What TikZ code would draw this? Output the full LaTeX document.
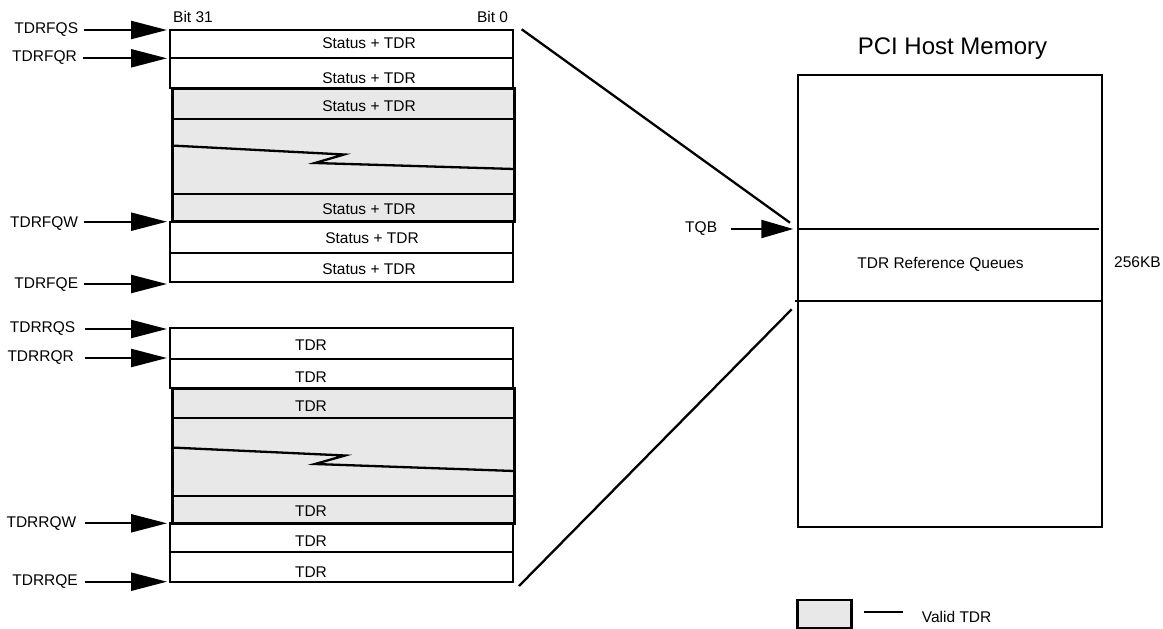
\documentclass[tikz,border=0pt]{standalone}
\usepackage{fontspec}
\setmainfont{Liberation Sans}
\usetikzlibrary{arrows.meta}
\definecolor{validgrey}{HTML}{E8E8E8}
\tikzset{
  lbl/.style={inner sep=0pt, font=\fontsize{15.5}{18}\selectfont},
  title/.style={inner sep=0pt, font=\fontsize{24}{28}\selectfont},
  cell/.style={draw=black, line width=2.3pt, fill=white},
  validbox/.style={draw=black, line width=3pt, fill=validgrey},
  sep/.style={draw=black, line width=2.3pt},
  ptr/.style={line width=2.3pt, -{Triangle[length=36pt,width=18pt]}},
  ptrs/.style={line width=2.3pt, -{Triangle[length=32pt,width=18pt]}},
  link/.style={line width=2.3pt},
}
\begin{document}
\begin{tikzpicture}[x=1pt,y=-1pt]
\useasboundingbox (0,0) rectangle (1163,629);

% ---------- Top block (free queue) ----------
\draw[cell] (170,30) rectangle (513.3,58.3);
\draw[cell] (170,58.3) rectangle (513.3,88.3);
\draw[validbox] (172,88.3) rectangle (514.7,221.7);
\draw[sep] (172,118.7) -- (514.7,118.7);
\draw[sep] (172,194.3) -- (514.7,194.3);
\draw[line width=2.3pt] (171,145.5) -- (344,154.5) -- (315,163) -- (514,169);
\draw[cell] (170,221.7) rectangle (513.3,253.3);
\draw[cell] (170,253.3) rectangle (513.3,282.3);
\draw[validbox, fill=none] (172,88.3) rectangle (514.7,221.7);

\node[lbl, anchor=west] (bit31) at (173,17) {Bit 31};
\node[lbl, anchor=east] (bit0) at (508.3,17) {Bit 0};

\node[lbl] (f1) at (369,43.5) {Status + TDR};
\node[lbl] (f2) at (369,78.5) {Status + TDR};
\node[lbl] (f3) at (369,106.5) {Status + TDR};
\node[lbl] (f4) at (369,209) {Status + TDR};
\node[lbl] (f5) at (372,238.5) {Status + TDR};
\node[lbl] (f6) at (369,269) {Status + TDR};

\node[lbl, anchor=east] (fqs) at (78.3,30) {TDRFQS};
\node[lbl, anchor=east] (fqr) at (77,58) {TDRFQR};
\node[lbl, anchor=east] (fqw) at (78.3,224) {TDRFQW};
\node[lbl, anchor=east] (fqe) at (78.3,285) {TDRFQE};
\coordinate (cfqs) at (167,30);
\coordinate (cfqr) at (167,58.3);
\coordinate (cfqw) at (167,221.7);
\coordinate (cfqe) at (167,284);
\draw[ptr, shorten <=6pt] (fqs.east) -- (cfqs);
\draw[ptr, shorten <=6pt] (fqr.east |- cfqr) -- (cfqr);
\draw[ptr, shorten <=6pt] (fqw.east |- cfqw) -- (cfqw);
\draw[ptr, shorten <=6pt] (fqe.east |- cfqe) -- (cfqe);

% ---------- Bottom block (reference queue) ----------
\draw[cell] (170,328.3) rectangle (513.3,359);
\draw[cell] (170,359) rectangle (513.3,388.3);
\draw[validbox] (172,388.3) rectangle (514.7,523.3);
\draw[sep] (172,417.7) -- (514.7,417.7);
\draw[sep] (172,495.7) -- (514.7,495.7);
\draw[line width=2.3pt] (171,447.5) -- (345,455.5) -- (315,464) -- (514,471);
\draw[cell] (170,523.3) rectangle (513.3,552.3);
\draw[cell] (170,552.3) rectangle (513.3,581.7);
\draw[validbox, fill=none] (172,388.3) rectangle (514.7,523.3);

\node[lbl] (r1) at (311,345) {TDR};
\node[lbl] (r2) at (311,377) {TDR};
\node[lbl] (r3) at (311,406.5) {TDR};
\node[lbl] (r4) at (311,511) {TDR};
\node[lbl] (r5) at (311,541) {TDR};
\node[lbl] (r6) at (311,572) {TDR};

\node[lbl, anchor=east] (rqs) at (75.5,328.5) {TDRRQS};
\node[lbl, anchor=east] (rqr) at (74,358) {TDRRQR};
\node[lbl, anchor=east] (rqw) at (76.5,524) {TDRRQW};
\node[lbl, anchor=east] (rqe) at (78,582) {TDRRQE};
\coordinate (crqs) at (167,329);
\coordinate (crqr) at (167,358);
\coordinate (crqw) at (167,523.3);
\coordinate (crqe) at (167,581.7);
\draw[ptr] (84.5,329) -- (crqs);
\draw[ptr] (84.5,358) -- (crqr);
\draw[ptr] (84.5,523.3) -- (crqw);
\draw[ptr] (84.5,581.7) -- (crqe);

% ---------- PCI host memory ----------
\node[title] (pci) at (952.5,49) {PCI Host Memory};
\draw[line width=2.3pt] (797.7,75) rectangle (1102,527);
\draw[line width=2.3pt] (797.7,229) -- (1099,229);
\draw[line width=2.3pt] (795,301) -- (1102,301);
\node[lbl] (trq) at (940.5,264) {TDR Reference Queues};
\node[lbl, anchor=west] (kb) at (1114,262) {256KB};

\node[lbl, anchor=east] (tqb) at (717.3,229) {TQB};
\coordinate (ctqb) at (793.3,229);
\draw[ptrs, shorten <=14pt] (tqb.east) -- (ctqb);

\coordinate (topcorner) at (521.7,29.3);
\coordinate (tqbend) at (790,222.7);
\coordinate (botcorner) at (519,586);
\coordinate (qend) at (791.7,309.3);
\draw[link] (topcorner) -- (tqbend);
\draw[link] (botcorner) -- (qend);

% ---------- Legend ----------
\draw[validbox, line width=2.7pt] (797.3,600) rectangle (851.7,628);
\draw[line width=2.3pt] (864.3,612.3) -- (903.3,612.3);
\node[lbl, anchor=west] (valid) at (921.7,616.5) {Valid TDR};
\end{tikzpicture}
\end{document}
